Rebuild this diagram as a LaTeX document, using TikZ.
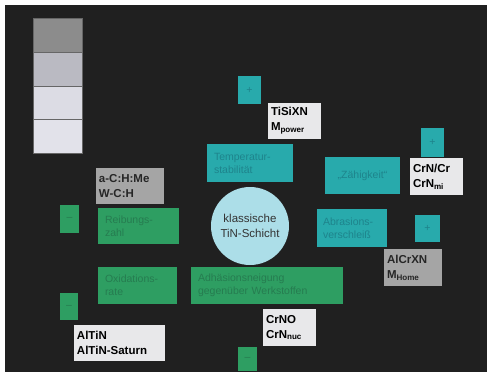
\documentclass[tikz,border=0pt]{standalone}
\usepackage{fontspec}
\setmainfont{Liberation Sans}
\definecolor{bgdark}{RGB}{32,32,32}
\definecolor{tealf}{RGB}{40,170,172}
\definecolor{tealt}{RGB}{30,132,140}
\definecolor{greenf}{RGB}{46,158,98}
\definecolor{greent}{RGB}{38,124,80}
\definecolor{labl}{RGB}{232,232,234}
\definecolor{labm}{RGB}{165,165,165}
\definecolor{circf}{RGB}{172,222,232}
\definecolor{swA}{RGB}{140,140,140}
\definecolor{swB}{RGB}{186,186,194}
\definecolor{swC}{RGB}{220,220,228}
\definecolor{swD}{RGB}{226,226,234}
\tikzset{
  box/.style={rectangle, inner sep=0pt, outer sep=0pt, font=\fontsize{10.5}{13}\selectfont, align=left},
  tealbox/.style={box, fill=tealf, text=tealt},
  greenbox/.style={box, fill=greenf, text=greent},
  lablight/.style={box, fill=labl, text=black, font=\fontsize{11.5}{15}\bfseries\selectfont},
  labmid/.style={box, fill=labm, text=black!85, font=\fontsize{11.5}{15}\bfseries\selectfont},
  swatch/.style={rectangle, inner sep=0pt, outer sep=0pt, draw=black!60, line width=1pt},
}
\begin{document}
\begin{tikzpicture}[x=1pt,y=-1pt]
\useasboundingbox (0,0) rectangle (491,376);
\fill[white] (0,0) rectangle (491,376);
\fill[bgdark] (5,5) rectangle (487,372);
% swatches
\node[swatch, fill=swA, minimum width=49pt, minimum height=34pt] (sw1) at (57.5,35) {};
\node[swatch, fill=swB, minimum width=49pt, minimum height=34pt] (sw2) at (57.5,69) {};
\node[swatch, fill=swC, minimum width=49pt, minimum height=33pt] (sw3) at (57.5,102.5) {};
\node[swatch, fill=swD, minimum width=49pt, minimum height=34pt] (sw4) at (57.5,136) {};
% small squares
\node[tealbox, minimum width=23pt, minimum height=28pt, align=center] (tA) at (249.5,90) {+};
\node[tealbox, minimum width=23pt, minimum height=29pt, align=center] (tB) at (432.5,142.5) {+};
\node[tealbox, minimum width=25pt, minimum height=27pt, align=center] (tC) at (427.5,228.5) {+};
\node[greenbox, minimum width=19pt, minimum height=28pt, align=center] (gA) at (69.5,219) {--};
\node[greenbox, minimum width=18pt, minimum height=27pt, align=center] (gB) at (69,306.5) {--};
\node[greenbox, minimum width=19pt, minimum height=24pt, align=center] (gC) at (247.5,359) {--};
% property boxes
\node[tealbox, minimum width=86pt, minimum height=38pt, text width=72pt] (temp) at (250,163) {Temperatur-\\stabilität};
\node[tealbox, minimum width=75pt, minimum height=37pt, text width=62pt, align=center] (zaeh) at (362.5,175.5) {„Zähigkeit“};
\node[tealbox, minimum width=70pt, minimum height=38pt, text width=58pt] (abr) at (352,228) {Abrasions-\\verschleiß};
\node[greenbox, minimum width=81pt, minimum height=36pt, text width=67pt] (reib) at (138.5,226) {Reibungs-\\zahl};
\node[greenbox, minimum width=79pt, minimum height=37pt, text width=65pt] (oxid) at (137.5,285.5) {Oxidations-\\rate};
\node[greenbox, minimum width=152pt, minimum height=37pt, text width=138pt] (adh) at (267,285.5) {Adhäsionsneigung\\gegenüber Werkstoffen};
% centre
\node[circle, fill=circf, minimum size=78pt, inner sep=0pt, align=center, text=black!80, font=\fontsize{11.5}{15}\selectfont] (tin) at (250,226) {klassische\\TiN-Schicht};
% labels
\node[lablight, minimum width=53pt, minimum height=36pt, text width=47pt] (tisi) at (294.5,121) {TiSiXN\\M\textsubscript{power}};
\node[lablight, minimum width=53pt, minimum height=37pt, text width=47pt] (crn) at (436.5,176.5) {CrN/Cr\\CrN\textsubscript{mi}};
\node[labmid, minimum width=58pt, minimum height=37pt, text width=52pt] (alcr) at (413,267.5) {AlCrXN\\M\textsubscript{Home}};
\node[labmid, minimum width=68pt, minimum height=36pt, text width=62pt] (ach) at (130,186) {a-C:H:Me\\W-C:H};
\node[lablight, minimum width=91pt, minimum height=36pt, text width=85pt] (alti) at (119.5,343) {AlTiN\\AlTiN-Saturn};
\node[lablight, minimum width=53pt, minimum height=37pt, text width=47pt] (crno) at (289.5,327.5) {CrNO\\CrN\textsubscript{nuc}};
\end{tikzpicture}
\end{document}
